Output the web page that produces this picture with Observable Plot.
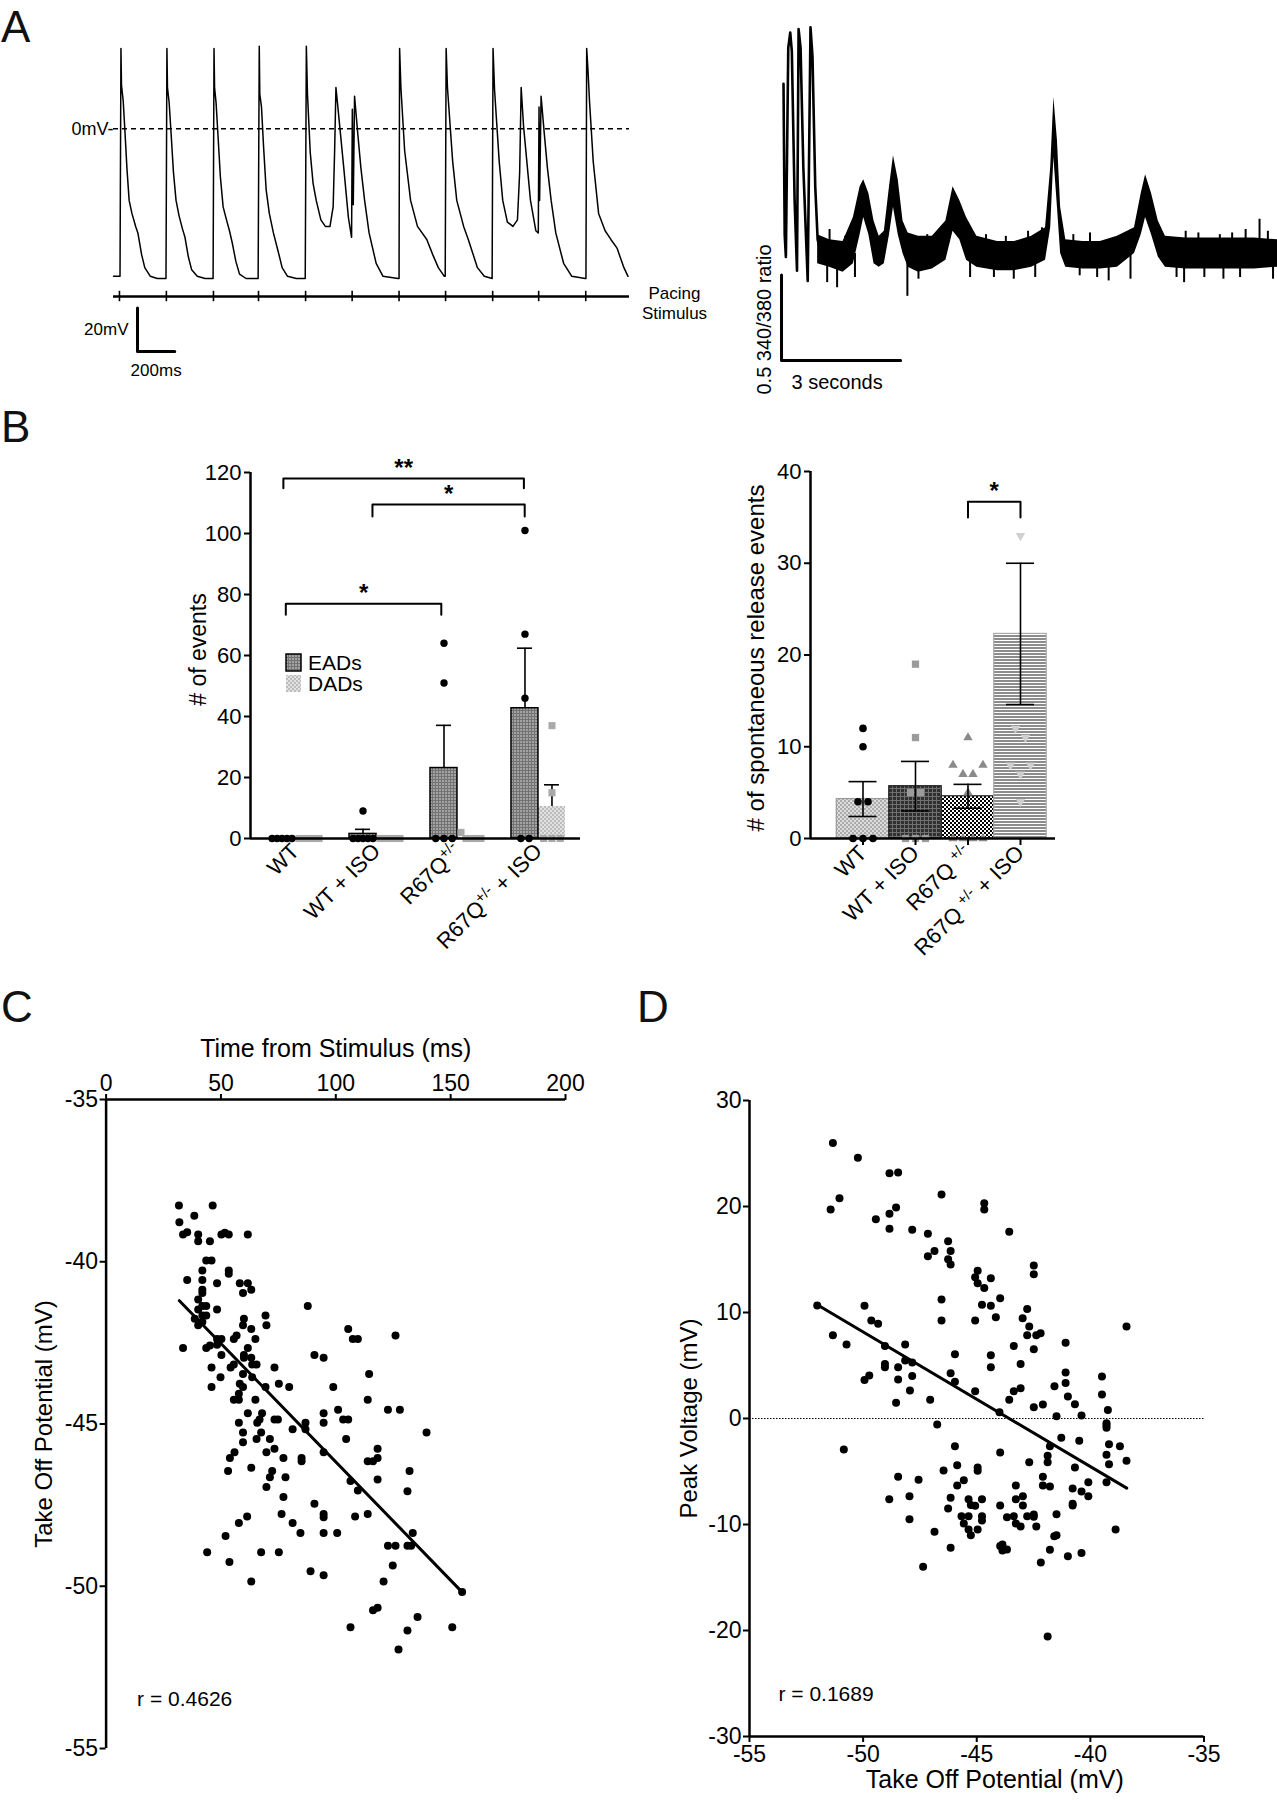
<!DOCTYPE html>
<html><head><meta charset="utf-8">
<script src="https://cdn.jsdelivr.net/npm/d3@7"></script>
<script src="https://cdn.jsdelivr.net/npm/@observablehq/plot@0.6"></script>
<style>
html,body{margin:0;padding:0;background:#fff;}
#fig{position:relative;width:1277px;height:1800px;overflow:hidden;background:#fff;}
</style></head>
<body><div id="fig"></div>
<script>
// ---------------- DATA ----------------
// Panel A (left): action potential trace [ms, mV]
const apTrace = [
[-32,-68],[3,-68],
[8,37],[11,20],[20,13],[30,-2],[40,-18],[52,-33],[67,-39],[87,-45],[99,-48],[119,-58],[136,-64],[166,-68],[203,-69],[250,-69],
[255,37],[258,19],[267,12],[278,-3],[290,-20],[304,-33],[320,-40],[338,-46],[352,-50],[370,-59],[388,-65],[418,-68],[460,-69],[503,-69],
[508,37],[511,19],[519,12],[530,-4],[542,-22],[557,-36],[575,-42],[591,-47],[607,-53],[625,-61],[645,-67],[680,-69],[745,-69],
[751,38],[754,16],[763,10],[774,-8],[788,-28],[805,-39],[827,-48],[854,-57],[874,-64],[903,-68],[950,-69],[998,-69],
[1004,38],[1010,16],[1025,-11],[1040,-25],[1057,-33],[1082,-42],[1106,-45],[1131,-45],[1148,-36],[1156,-10],[1163,19],[1170,13],[1205,-18],[1230,-41],[1247,-50],
[1251,9],[1256,-35],[1263,15],[1280,-2],[1297,-18],[1317,-33],[1341,-48],[1379,-62],[1416,-68],[1497,-69],[1502,-69],
[1505,37],[1512,19],[1532,-10],[1564,-33],[1601,-45],[1651,-51],[1683,-58],[1713,-64],[1745,-68],[1750,-68],
[1755,37],[1762,19],[1790,-15],[1812,-33],[1849,-45],[1874,-51],[1923,-64],[1960,-68],[2002,-69],
[2007,37],[2015,18],[2040,-15],[2059,-33],[2084,-43],[2114,-45],[2138,-42],[2150,-20],[2158,19],[2171,1],[2208,-33],[2237,-47],[2250,-48],
[2254,10],[2257,-33],[2265,15],[2282,-2],[2299,-18],[2319,-33],[2344,-48],[2386,-62],[2430,-68],[2502,-69],[2506,-69],
[2510,37],[2517,27],[2525,13],[2545,-15],[2574,-39],[2609,-47],[2640,-51],[2673,-55],[2710,-64],[2732,-68]
];
const stimTimes = [0,252,505,747,1000,1250,1502,1752,2005,2252,2505];
const apExtent = [-32, 2740];
const stimLevel = -77.3;
const apScaleBar = {t0: 97, v0: -102.6, dt: 200, dv: 20};

// Panel A (right): calcium ratio trace [s, ratio]
const caEarly = [[0,1.99],[0.03,1.11],[0.06,0.98],[0.12,2.20],[0.17,2.29],[0.21,2.18],[0.28,1.31],[0.34,0.90],[0.38,2.31],[0.43,2.20],[0.50,1.50],[0.61,0.84],[0.68,2.32],[0.73,2.15],[0.80,1.39],[0.86,1.08],[0.99,0.96]];
const caBand = [ // [s, low, high]
[0.86,0.94,1.11],[1.16,0.92,1.08],[1.50,0.89,1.07],[1.76,0.94,1.21],[1.93,1.11,1.39],[2.02,1.21,1.43],[2.15,1.11,1.35],[2.28,0.94,1.19],[2.41,0.92,1.10],[2.54,0.94,1.13],[2.67,1.11,1.39],[2.77,1.27,1.57],[2.89,1.11,1.43],[3.01,1.0,1.19],[3.14,0.92,1.12],[3.40,0.89,1.10],[3.75,0.91,1.10],[4.09,0.96,1.19],[4.27,1.13,1.39],[4.44,1.08,1.31],[4.61,0.96,1.21],[4.87,0.92,1.10],[5.39,0.90,1.07],[5.82,0.90,1.07],[6.25,0.92,1.10],[6.60,0.96,1.15],[6.73,1.15,1.50],[6.81,1.56,1.91],[6.90,1.27,1.66],[6.98,1.0,1.27],[7.11,0.92,1.08],[7.54,0.91,1.07],[7.98,0.91,1.07],[8.41,0.92,1.10],[8.84,1.0,1.15],[9.01,1.11,1.35],[9.12,1.21,1.46],[9.27,1.11,1.35],[9.44,0.98,1.19],[9.62,0.92,1.10],[10.13,0.91,1.09],[11.0,0.91,1.09],[11.86,0.91,1.09],[12.45,0.92,1.08]
];
const caSpikes = [[1.10,0.83],[1.35,0.80],[1.80,0.86],[3.12,0.75],[3.40,0.85],[4.70,0.86],[5.30,0.86],[5.80,0.85],[6.34,0.86],[7.46,0.87],[7.90,0.86],[8.19,0.84],[8.74,0.85],[9.90,0.86],[10.09,0.83],[10.60,0.86],[11.08,0.85],[11.50,0.86],[12.33,0.85],
[1.16,1.14],[1.55,1.10],[3.62,1.11],[3.89,1.09],[5.10,1.11],[5.60,1.10],[6.16,1.13],[6.51,1.15],[7.30,1.11],[7.72,1.12],[8.49,1.09],[10.13,1.13],[10.45,1.12],[10.99,1.11],[11.30,1.12],[11.64,1.14],[11.99,1.20],[12.20,1.13]];
const caScaleBar = {t0: -0.05, r0: 0.375, dt: 3, dr: 0.5};

// Panel B
const groups = ["WT", "WT + ISO", "R67Q+/-", "R67Q+/- + ISO"];
const eadValues = [[0,0,0,0,0],[9,0,0,0,0,0],[64,51,0,0,0],[101,67,46,0,0]];
const dadValues = [[0,0,0,0,0],[0,0,0,0,0,0],[2,0,0,0,0],[37,15,0,0,0]];
const eadMean = [0, 1.5, 23.1, 42.7];
const eadSem  = [0, 1.5, 14.0, 19.7];
const dadMean = [0, 0, 0.4, 10.5];
const dadSem  = [0, 0, 0.4, 7.1];
const bracketsL = [
  {x1: -0.15, x2: 2.82, y: 118, leg: 114.8, label: "**"},
  {x1: 0.95, x2: 2.83, y: 109.5, leg: 105.6, label: "*"},
  {x1: -0.12, x2: 1.80, y: 77, leg: 73.4, label: "*"}
];
const sreValues = [[12,10,4,4,0,0,0],[19,11,5,5,0,0,0],[11,8,8,7,7,5,0,0,0,0],[33,12,11,8,8,7,4]];
const sreMean = [4.3, 5.7, 4.6, 22.3];
const sreSem  = [1.9, 2.7, 1.3, 7.7];
const bracketsR = [{x1: 2.0, x2: 3.0, y: 36.7, leg: 35.0, label: "*"}];

// Panel C: [time from stimulus (ms), take off potential (mV)]
const cPoints = [
[31.7,-38.27],[46.4,-38.27],[38.4,-38.58],[31.9,-38.78],
[33.5,-39.16],[35.3,-39.09],[40.1,-39.16],[50.2,-39.16],[51.7,-39.11],[53.4,-39.16],[61.7,-39.16],
[40.1,-39.37],[45.2,-39.37],[43.6,-39.96],[45.9,-39.96],
[41.9,-40.27],[53.4,-40.27],[53.4,-40.37],
[35.3,-40.56],[41.9,-40.56],[48.3,-40.66],[58.2,-40.66],[61.7,-40.66],
[41.9,-40.86],[41.9,-40.96],[59.6,-40.96],[63.2,-40.86],[40.1,-41.16],
[87.8,-41.36],[41.9,-41.36],[43.6,-41.36],[40.1,-41.47],[48.3,-41.47],
[41.9,-41.66],[43.6,-41.66],[38.6,-41.76],[60.0,-41.76],[69.4,-41.66],
[40.1,-41.96],[41.9,-41.86],[59.6,-41.96],[69.8,-41.96],
[63.2,-42.07],[105.4,-42.07],
[56.8,-42.27],[55.6,-42.38],[48.3,-42.38],[50.2,-42.38],[65.0,-42.38],[107.4,-42.38],[109.6,-42.38],[126.0,-42.27],
[33.5,-42.66],[43.6,-42.66],[45.2,-42.58],[48.3,-42.56],[61.7,-42.66],
[50.2,-42.87],[60.0,-42.87],[60.0,-42.96],[63.2,-42.96],[90.7,-42.87],[94.7,-42.96],
[54.2,-43.26],[55.6,-43.17],[63.6,-43.17],[65.5,-43.17],[73.3,-43.26],[45.9,-43.26],
[59.6,-43.46],[49.8,-43.56],[63.6,-43.56],[114.5,-43.46],
[58.2,-43.76],[59.6,-43.86],[45.9,-43.86],[69.4,-43.86],[75.2,-43.76],[79.7,-43.86],[98.9,-43.86],
[57.8,-44.07],[55.6,-44.25],[57.8,-44.25],[65.0,-44.25],[113.9,-44.25],
[61.7,-44.67],[67.9,-44.67],[94.7,-44.67],[101.0,-44.56],[122.7,-44.56],[127.9,-44.56],
[57.8,-44.96],[65.8,-44.96],[66.8,-44.86],[73.3,-44.86],[74.8,-44.86],[86.8,-44.96],[94.7,-44.96],[103.2,-44.86],[105.4,-44.86],
[59.6,-45.26],[67.5,-45.26],[81.2,-45.16],[86.8,-45.16],[139.5,-45.26],
[59.6,-45.56],[65.5,-45.46],[71.3,-45.46],[104.5,-45.46],
[55.9,-45.87],[69.8,-45.87],[73.3,-45.76],[94.7,-45.87],[118.2,-45.76],
[53.9,-46.05],[77.2,-46.05],[85.1,-46.05],[85.1,-46.15],[113.9,-46.15],[116.2,-46.15],[118.2,-46.05],
[53.1,-46.45],[63.2,-46.35],[72.3,-46.45],[132.1,-46.45],
[71.3,-46.64],[78.1,-46.64],[118.2,-46.71],
[69.8,-46.94],[77.2,-47.25],[90.7,-47.46],[106.4,-46.76],[109.6,-47.05],[131.2,-47.07],
[61.4,-47.85],[57.8,-48.05],[76.4,-47.77],[81.2,-48.05],[84.6,-48.36],[94.7,-47.77],[94.7,-47.87],[94.7,-48.36],[100.6,-48.36],[108.4,-47.85],[113.9,-47.77],[133.5,-48.36],
[52.0,-48.45],[44.0,-48.95],[53.7,-49.25],[67.5,-48.95],[75.2,-48.95],[122.7,-48.75],[126.0,-48.75],[131.2,-48.75],[132.8,-48.75],[124.8,-49.36],
[89.0,-49.54],[94.7,-49.66],[63.2,-49.85],[120.8,-49.85],[155.0,-50.18],
[116.2,-50.74],[118.2,-50.66],[135.6,-50.95],[106.4,-51.26],[131.2,-51.36],[150.7,-51.26],
[127.3,-51.95]
];
const cFit = [[31.9,-41.2],[155.0,-50.18]];
const cTicksX = [0,50,100,150,200];
const cTicksY = [-35,-40,-45,-50,-55];

// Panel D: [take off potential (mV), peak voltage (mV)]
const dPoints = [
[-51.33,26.0],[-50.23,24.59],[-48.84,23.14],[-48.46,23.20],[-51.04,20.78],[-51.43,19.71],[-46.55,21.13],
[-48.55,19.90],[-48.84,19.31],[-44.67,20.31],[-44.67,19.71],
[-49.44,18.80],[-48.84,17.89],[-47.84,17.80],[-47.15,17.42],[-43.57,17.61],
[-46.26,16.73],[-46.15,15.81],[-46.86,15.81],[-47.15,15.31],[-46.26,15.03],[-46.15,14.53],
[-42.49,14.43],[-42.49,13.61],
[-44.96,13.93],[-45.07,13.33],[-44.96,12.76],[-44.38,13.24],[-44.67,12.32],
[-46.55,11.22],[-43.97,11.35],[-44.77,10.72],[-44.38,10.63],[-42.78,10.34],
[-52.02,10.66],[-49.94,10.63],
[-49.64,9.24],[-49.34,8.93],[-46.55,9.24],[-45.07,9.24],[-44.16,9.56],[-42.98,9.46],[-42.69,8.68],[-38.41,8.68],
[-42.78,7.86],[-42.38,7.86],[-42.19,8.05],
[-51.33,7.86],[-50.73,6.98],[-49.04,6.85],[-48.15,6.98],[-43.37,6.85],[-41.09,7.14],
[-42.49,6.54],[-44.38,5.97],[-45.96,6.07],
[-48.15,5.47],[-47.84,5.28],[-49.04,5.15],[-49.04,4.84],[-48.46,4.84],[-44.38,4.84],[-43.07,5.15],
[-49.94,3.64],[-49.73,4.05],[-48.46,3.68],[-47.84,4.02],[-46.15,4.27],[-41.09,4.34],[-39.49,3.96],
[-45.96,3.46],[-41.09,3.36],
[-47.94,2.64],[-45.07,2.58],[-43.37,2.58],[-43.07,2.86],[-41.58,3.05],[-39.49,2.26],
[-48.55,1.48],[-47.05,1.76],[-43.57,1.76],[-40.99,2.07],[-40.68,1.35],[-42.49,1.07],[-42.09,1.32],
[-44.0,0.59],[-41.49,0.22],[-40.39,0.28],[-39.23,0.81],
[-46.74,-0.57],[-39.29,-0.44],[-39.29,-0.66],[-39.29,-0.88],
[-50.85,-2.92],[-45.96,-2.61],[-41.28,-1.82],[-40.49,-2.11],[-41.78,-2.61],[-39.18,-2.42],[-38.70,-2.61],
[-43.97,-3.21],[-41.88,-3.52],[-39.29,-3.43],[-45.86,-4.40],[-44.96,-4.62],[-44.96,-4.94],[-42.69,-4.12],[-41.88,-4.12],[-40.68,-4.62],[-39.18,-4.31],[-38.41,-3.99],
[-48.46,-5.50],[-47.56,-5.79],[-46.46,-4.91],[-45.57,-5.82],[-45.86,-6.32],[-42.09,-5.50],[-42.09,-6.32],[-41.78,-6.41],[-43.28,-6.32],[-40.78,-6.60],[-40.09,-6.01],[-39.29,-6.01],[-40.39,-6.89],[-40.09,-7.33],
[-48.85,-7.61],[-47.96,-7.33],[-46.15,-7.48],[-45.36,-7.61],[-44.77,-7.61],[-45.26,-8.15],[-45.07,-8.24],[-46.26,-8.49],[-43.97,-8.21],[-43.28,-7.61],[-42.97,-7.33],[-42.97,-8.21],[-40.78,-8.05],[-40.78,-8.21],
[-47.96,-9.50],[-45.67,-9.21],[-45.36,-9.21],[-45.57,-9.91],[-44.77,-9.21],[-44.77,-9.62],[-43.67,-9.31],[-43.37,-9.21],[-43.28,-9.91],[-43.07,-10.19],[-42.78,-9.21],[-42.49,-9.06],[-42.49,-9.28],[-42.38,-10.19],[-41.49,-9.03],
[-46.86,-10.69],[-45.36,-10.47],[-44.96,-10.47],[-45.26,-11.01],[-41.59,-11.10],[-41.49,-11.01],[-38.89,-10.47],
[-46.15,-12.20],[-43.97,-12.04],[-43.87,-11.89],[-43.87,-12.45],[-43.67,-12.36],[-41.78,-12.39],[-40.99,-12.99],[-40.39,-12.70],
[-47.36,-13.99],[-42.18,-13.58],
[-41.88,-20.57]
];
const dFit = [[-52.0,10.7],[-38.4,-6.57]];
const dTicksX = [-55,-50,-45,-40,-35];
const dTicksY = [-30,-20,-10,0,10,20,30];

// ---------------- RENDER ----------------
const FONT = '"Liberation Sans", Arial, Helvetica, sans-serif';
const fig = document.getElementById("fig");
const SVGNS = "http://www.w3.org/2000/svg";

// overlay: pattern defs, panel letters, legend
const ov = d3.select(fig).append("svg").attr("width",1277).attr("height",1800)
  .style("position","absolute").style("left","0px").style("top","0px").style("font-family",FONT);
const defs = ov.append("defs");
function pat(id, w, h, build){ const p = defs.append("pattern").attr("id",id).attr("patternUnits","userSpaceOnUse").attr("width",w).attr("height",h); build(p); }
pat("patEAD",3,3,p=>{p.append("rect").attr("width",3).attr("height",3).attr("fill","#a3a3a3"); p.append("path").attr("d","M0,0.5H3M0.5,0V3").attr("stroke","#727272").attr("stroke-width",1);});
pat("patDAD",4,4,p=>{p.append("rect").attr("width",4).attr("height",4).attr("fill","#e2e2e2"); p.append("rect").attr("width",2).attr("height",2).attr("fill","#bcbcbc"); p.append("rect").attr("x",2).attr("y",2).attr("width",2).attr("height",2).attr("fill","#bcbcbc");});
pat("patWT",4,4,p=>{p.append("rect").attr("width",4).attr("height",4).attr("fill","#dcdcdc"); p.append("rect").attr("width",2).attr("height",2).attr("fill","#ababab"); p.append("rect").attr("x",2).attr("y",2).attr("width",2).attr("height",2).attr("fill","#ababab");});
pat("patWTISO",4,4,p=>{p.append("rect").attr("width",4).attr("height",4).attr("fill","#303030"); p.append("path").attr("d","M0,0.5H4M0.5,0V4").attr("stroke","#707070").attr("stroke-width",1);});
pat("patR67",4,4,p=>{p.append("rect").attr("width",4).attr("height",4).attr("fill","#ffffff"); p.append("rect").attr("width",2).attr("height",2).attr("fill","#000"); p.append("rect").attr("x",2).attr("y",2).attr("width",2).attr("height",2).attr("fill","#000");});
pat("patR67ISO",3,3,p=>{p.append("rect").attr("width",3).attr("height",3).attr("fill","#8c8c8c"); p.append("rect").attr("y",2).attr("width",3).attr("height",1).attr("fill","#ffffff");});

[["A",1,42],["B",1,442],["C",1,1022],["D",637,1022]].forEach(([t,x,y])=>{
  ov.append("text").attr("x",x).attr("y",y).attr("font-size",44).attr("fill","#111").text(t);
});
// legend for panel B (left)
ov.append("rect").attr("x",286).attr("y",654).attr("width",15).attr("height",17).attr("fill","url(#patEAD)").attr("stroke","#000").attr("stroke-width",1.5);
ov.append("rect").attr("x",286).attr("y",675).attr("width",15).attr("height",17).attr("fill","url(#patDAD)");
ov.append("text").attr("x",308).attr("y",663).attr("dy","0.35em").attr("font-size",21).text("EADs");
ov.append("text").attr("x",308).attr("y",684).attr("dy","0.35em").attr("font-size",21).text("DADs");

function mk(opts, left, top){
  const svg = Plot.plot({...opts, style: {background: "transparent", fontFamily: FONT, overflow: "visible", color: "#000"}});
  svg.style.position = "absolute"; svg.style.left = left + "px"; svg.style.top = top + "px"; svg.style.maxWidth = "none";
  fig.appendChild(svg);
  return svg;
}
function supify(svg){
  svg.querySelectorAll("text").forEach(t=>{
    const s = t.textContent; const k = s.indexOf("+/-");
    if (k < 0) return;
    while (t.firstChild) t.removeChild(t.firstChild);
    t.appendChild(document.createTextNode(s.slice(0,k)));
    const sup = document.createElementNS(SVGNS,"tspan");
    sup.setAttribute("baseline-shift","super"); sup.setAttribute("font-size","68%");
    sup.textContent = "+/-"; t.appendChild(sup);
    const rest = document.createElementNS(SVGNS,"tspan"); rest.textContent = s.slice(k+3); t.appendChild(rest);
  });
}
// spread tied points horizontally (returns pixel offsets)
function spread(values, pxPerUnit, tolPx, stepFn){
  const idx = values.map((v,i)=>i).sort((a,b)=>values[b]-values[a]);
  const offs = new Array(values.length).fill(0);
  let cl = [];
  const flush = ()=>{
    const n = cl.length; if (!n) return;
    const st = n > 1 ? stepFn(n) : 0;
    const pos = d3.range(n).map(k=>(k-(n-1)/2)*st);
    const order = []; let lo=0, hi=n-1;
    while (lo<=hi){ order.push(lo++); if (lo<=hi) order.push(hi--); }
    cl.forEach((ii,k)=> offs[ii] = pos[order[k]]);
    cl = [];
  };
  for (const i of idx){
    if (cl.length && Math.abs(values[cl[0]]-values[i])*pxPerUnit > tolPx) flush();
    cl.push(i);
  }
  flush();
  return offs;
}

// ---- Panel A left ----
mk({
  width: 740, height: 400, margin: 0,
  x: {domain: apExtent, range: [113, 629], axis: null},
  y: {domain: [37, -69], range: [48, 278], axis: null},
  marks: [
    Plot.ruleY([0], {x1: ()=>apExtent[0], x2: ()=>apExtent[1], stroke: "#000", strokeWidth: 1.6, strokeDasharray: "5,4"}),
    Plot.line(apTrace, {x: d=>d[0], y: d=>d[1], stroke: "#000", strokeWidth: 1.5}),
    Plot.ruleY([stimLevel], {x1: ()=>apExtent[0], x2: ()=>apExtent[1], stroke: "#000", strokeWidth: 2.5}),
    Plot.ruleX(stimTimes, {y1: ()=>stimLevel+2.4, y2: ()=>stimLevel-2.4, stroke: "#000", strokeWidth: 1.6}),
    Plot.line([[apScaleBar.t0, apScaleBar.v0+apScaleBar.dv],[apScaleBar.t0, apScaleBar.v0],[apScaleBar.t0+apScaleBar.dt, apScaleBar.v0]], {x: d=>d[0], y: d=>d[1], stroke: "#000", strokeWidth: 3}),
    Plot.text(["0mV-"], {x: ()=>apExtent[0], y: ()=>0, text: d=>d, textAnchor: "end", dx: 0, fontSize: 18}),
    Plot.text(["20mV"], {x: ()=>apScaleBar.t0, y: ()=>apScaleBar.v0+apScaleBar.dv/2, text: d=>d, textAnchor: "end", dx: -9, fontSize: 17}),
    Plot.text(["200ms"], {x: ()=>apScaleBar.t0+apScaleBar.dt/2, y: ()=>apScaleBar.v0, text: d=>d, dy: 19, fontSize: 17}),
    Plot.text(["Pacing\nStimulus"], {x: ()=>apExtent[1], y: ()=>stimLevel, text: d=>d, dx: 45, dy: 6, lineHeight: 1.15, fontSize: 17})
  ]
}, 0, 0);

// ---- Panel A right ----
mk({
  width: 537, height: 420, margin: 0,
  x: {domain: [0, 12.45], range: [43, 537.3], axis: null},
  y: {domain: [1, 2], range: [253, 81.7], axis: null},
  marks: [
    Plot.areaY(caBand, {x: d=>d[0], y1: d=>d[1], y2: d=>d[2], fill: "#000"}),
    Plot.ruleX(caSpikes, {x: d=>d[0], y1: ()=>1, y2: d=>d[1], stroke: "#000", strokeWidth: 2}),
    Plot.line(caEarly, {x: d=>d[0], y: d=>d[1], stroke: "#000", strokeWidth: 2.6}),
    Plot.line([[caScaleBar.t0, caScaleBar.r0+caScaleBar.dr],[caScaleBar.t0, caScaleBar.r0],[caScaleBar.t0+caScaleBar.dt, caScaleBar.r0]], {x: d=>d[0], y: d=>d[1], stroke: "#000", strokeWidth: 3}),
    Plot.text(["3 seconds"], {x: ()=>caScaleBar.t0+1.5, y: ()=>caScaleBar.r0, text: d=>d, dy: 22, dx: -4, fontSize: 20}),
    Plot.text(["0.5 340/380 ratio"], {x: ()=>caScaleBar.t0, y: ()=>caScaleBar.r0+0.24, text: d=>d, dx: -17, rotate: -90, textAnchor: "middle", fontSize: 20})
  ]
}, 740, 0);

// ---- Panel B left ----
{
  const pxU = 81, pxY = 3.05;
  const bars = groups.flatMap((g,i)=>[
    {i, kind: "EADs", x: i-1/6, mean: eadMean[i], sem: eadSem[i]},
    {i, kind: "DADs", x: i+1/6, mean: dadMean[i], sem: dadSem[i]}]);
  const stepL = n => Math.min(8.3, 20/(n-1));
  const eadPts = eadValues.flatMap((vals,i)=>{ const o = spread(vals, pxY, 7, stepL); return vals.map((v,k)=>({x: i-1/6+o[k]/pxU, y: v})); });
  const dadPts = dadValues.flatMap((vals,i)=>{ const o = spread(vals, pxY, 7, stepL); return vals.map((v,k)=>({x: i+1/6+o[k]/pxU, y: v})); });
  const brk = bracketsL.flatMap((b,k)=>[{k,x:b.x1,y:b.leg},{k,x:b.x1,y:b.y},{k,x:b.x2,y:b.y},{k,x:b.x2,y:b.leg}]);
  const cap = 7.5/pxU;
  const svg = mk({
    width: 460, height: 560, marginLeft: 100, marginRight: 30, marginTop: 32, marginBottom: 162,
    x: {domain: [-0.556, 3.519]}, y: {domain: [0, 120]},
    marks: [
      Plot.rect(bars.filter(d=>d.kind==="DADs"), {x1: d=>d.x-1/6, x2: d=>d.x+1/6, y1: ()=>0, y2: "mean", fill: "url(#patDAD)"}),
      Plot.rect(bars.filter(d=>d.kind==="EADs" && d.mean>0), {x1: d=>d.x-1/6, x2: d=>d.x+1/6, y1: ()=>0, y2: "mean", fill: "url(#patEAD)", stroke: "#000", strokeWidth: 1.5}),
      Plot.ruleX(bars.filter(d=>d.sem>0), {x: "x", y1: "mean", y2: d=>d.mean+d.sem, stroke: "#000", strokeWidth: 1.6}),
      Plot.ruleY(bars.filter(d=>d.sem>0), {y: d=>d.mean+d.sem, x1: d=>d.x-cap, x2: d=>d.x+cap, stroke: "#000", strokeWidth: 1.6}),
      Plot.dot(dadPts, {x: "x", y: "y", symbol: "square", r: 4, fill: "#a9a9a9"}),
      Plot.dot(eadPts, {x: "x", y: "y", r: 3.7, fill: "#000"}),
      Plot.ruleY([0], {stroke: "#000", strokeWidth: 2.5}),
      Plot.ruleX([-0.556], {y1: ()=>0, y2: ()=>120, stroke: "#000", strokeWidth: 2.5}),
      Plot.axisY({ticks: d3.range(0,121,20), tickSize: 6, tickPadding: 3, fontSize: 22, strokeWidth: 2, label: null, tickFormat: d=>String(d)}),
      Plot.axisX({ticks: [0,1,2,3], tickFormat: i=>groups[i], tickRotate: -45, tickSize: 0, tickPadding: 9, fontSize: 22, label: null}),
      Plot.line(brk, {x: "x", y: "y", z: "k", stroke: "#000", strokeWidth: 2}),
      Plot.text(bracketsL, {x: d=>(d.x1+d.x2)/2, y: "y", text: "label", dy: -10, fontSize: 24, fontWeight: "bold"}),
      Plot.text(["# of events"], {text: d=>d, frameAnchor: "left", rotate: -90, textAnchor: "middle", dx: -52, dy: -6, fontSize: 23})
    ]
  }, 150, 440);
  supify(svg);
}

// ---- Panel B right ----
{
  const pxU = 52.5, pxY = 9.18;
  const fills = ["url(#patWT)","url(#patWTISO)","url(#patR67)","url(#patR67ISO)"];
  const strokes = ["#9a9a9a","#222","#222","#aaaaaa"];
  const bars = groups.map((g,i)=>({i, mean: sreMean[i], sem: sreSem[i]}));
  const stepR = n => 10;
  const pts = sreValues.map((vals,i)=>{ const o = spread(vals, pxY, 9.5, stepR); return vals.map((v,k)=>({x: i+o[k]/pxU, y: v})); });
  const triDown = {draw(ctx, size){ const a = Math.sqrt(4*size/Math.sqrt(3)); const h = a*Math.sqrt(3)/2; ctx.moveTo(-a/2,-h/3); ctx.lineTo(a/2,-h/3); ctx.lineTo(0,2*h/3); ctx.closePath(); }};
  const brk = bracketsR.flatMap((b,k)=>[{k,x:b.x1,y:b.leg},{k,x:b.x1,y:b.y},{k,x:b.x2,y:b.y},{k,x:b.x2,y:b.leg}]);
  const cap = 14/pxU;
  const svg = mk({
    width: 400, height: 560, marginLeft: 110, marginRight: 45, marginTop: 31, marginBottom: 162,
    x: {domain: [-1, 3.667]}, y: {domain: [0, 40]},
    marks: [
      ...bars.map((b,i)=>Plot.rect([b], {x1: d=>d.i-0.5, x2: d=>d.i+0.5, y1: ()=>0, y2: "mean", fill: fills[i], stroke: strokes[i], strokeWidth: 1.2})),
      Plot.dot(pts[0], {x: "x", y: "y", r: 3.8, fill: "#000"}),
      Plot.dot(pts[1], {x: "x", y: "y", symbol: "square", r: 4.1, fill: "#9b9b9b"}),
      Plot.dot(pts[2], {x: "x", y: "y", symbol: "triangle", r: 3.5, fill: "#8a8a8a"}),
      Plot.dot(pts[3], {x: "x", y: "y", symbol: triDown, r: 3.5, fill: "#d0d0d0"}),
      Plot.ruleX(bars, {x: "i", y1: d=>d.mean-d.sem, y2: d=>d.mean+d.sem, stroke: "#000", strokeWidth: 1.6}),
      Plot.ruleY(bars, {y: d=>d.mean+d.sem, x1: d=>d.i-cap, x2: d=>d.i+cap, stroke: "#000", strokeWidth: 1.6}),
      Plot.ruleY(bars, {y: d=>d.mean-d.sem, x1: d=>d.i-cap, x2: d=>d.i+cap, stroke: "#000", strokeWidth: 1.6}),
      Plot.ruleY([0], {stroke: "#000", strokeWidth: 2.5}),
      Plot.ruleX([-1], {y1: ()=>0, y2: ()=>40, stroke: "#000", strokeWidth: 2.5}),
      Plot.axisY({ticks: [0,10,20,30,40], tickSize: 6, tickPadding: 3, fontSize: 22, strokeWidth: 2, label: null, tickFormat: d=>String(d)}),
      Plot.axisX({ticks: [0,1,2,3], tickFormat: i=>groups[i].replace("R67Q+/-","R67Q +/-"), tickRotate: -45, tickSize: 7, tickPadding: 4, fontSize: 22, strokeWidth: 2, label: null}),
      Plot.line(brk, {x: "x", y: "y", z: "k", stroke: "#000", strokeWidth: 2}),
      Plot.text(bracketsR, {x: d=>(d.x1+d.x2)/2, y: "y", text: "label", dy: -10, fontSize: 24, fontWeight: "bold"}),
      Plot.text(["# of spontaneous release events"], {text: d=>d, frameAnchor: "left", rotate: -90, textAnchor: "middle", dx: -54, dy: 3, fontSize: 24})
    ]
  }, 700, 440);
  supify(svg);
}

// ---- Panel C ----
mk({
  width: 640, height: 820, marginLeft: 105.6, marginRight: 75, marginTop: 119, marginBottom: 52,
  x: {domain: [0, 200]}, y: {domain: [-55, -35]},
  marks: [
    Plot.dot(cPoints, {x: d=>d[0], y: d=>d[1], r: 4, fill: "#000"}),
    Plot.line(cFit, {x: d=>d[0], y: d=>d[1], stroke: "#000", strokeWidth: 3}),
    Plot.ruleY([-35], {stroke: "#000", strokeWidth: 2.5}),
    Plot.ruleX([0], {stroke: "#000", strokeWidth: 2.5}),
    Plot.axisX({anchor: "top", ticks: cTicksX, tickSize: 6, tickPadding: 3, fontSize: 23, strokeWidth: 2, label: null, tickFormat: d=>String(d)}),
    Plot.axisY({ticks: cTicksY, tickSize: 6, tickPadding: 2, fontSize: 23, strokeWidth: 2, label: null, tickFormat: d=>String(d)}),
    Plot.text(["r = 0.4626"], {text: d=>d, frameAnchor: "bottom-left", dx: 31, dy: -43, textAnchor: "start", fontSize: 21}),
    Plot.text(["Time from Stimulus (ms)"], {text: d=>d, frameAnchor: "top", dy: -60, fontSize: 25}),
    Plot.text(["Take Off Potential (mV)"], {text: d=>d, frameAnchor: "left", rotate: -90, textAnchor: "middle", dx: -62, fontSize: 24})
  ]
}, 0, 980);

// ---- Panel D ----
mk({
  width: 647, height: 740, marginLeft: 119, marginRight: 73.5, marginTop: 40, marginBottom: 64,
  x: {domain: [-55, -35]}, y: {domain: [-30, 30]},
  marks: [
    Plot.ruleY([0], {stroke: "#000", strokeWidth: 1.2, strokeDasharray: "1.5,1.5"}),
    Plot.dot(dPoints, {x: d=>d[0], y: d=>d[1], r: 4, fill: "#000"}),
    Plot.line(dFit, {x: d=>d[0], y: d=>d[1], stroke: "#000", strokeWidth: 3}),
    Plot.ruleX([-55], {stroke: "#000", strokeWidth: 2.5}),
    Plot.ruleY([-30], {stroke: "#000", strokeWidth: 2.5}),
    Plot.axisX({ticks: dTicksX, tickSize: 6, tickPadding: 3, fontSize: 23, strokeWidth: 2, label: null, tickFormat: d=>String(d)}),
    Plot.axisY({ticks: dTicksY, tickSize: 6, tickPadding: 2, fontSize: 23, strokeWidth: 2, label: null, tickFormat: d=>String(d)}),
    Plot.text(["r = 0.1689"], {text: d=>d, frameAnchor: "bottom-left", dx: 29, dy: -36, textAnchor: "start", fontSize: 21}),
    Plot.text(["Take Off Potential (mV)"], {text: d=>d, frameAnchor: "bottom", dx: 18, dy: 51, fontSize: 25}),
    Plot.text(["Peak Voltage (mV)"], {text: d=>d, frameAnchor: "left", rotate: -90, textAnchor: "middle", dx: -60, fontSize: 24})
  ]
}, 630, 1060);
</script>
</body></html>
